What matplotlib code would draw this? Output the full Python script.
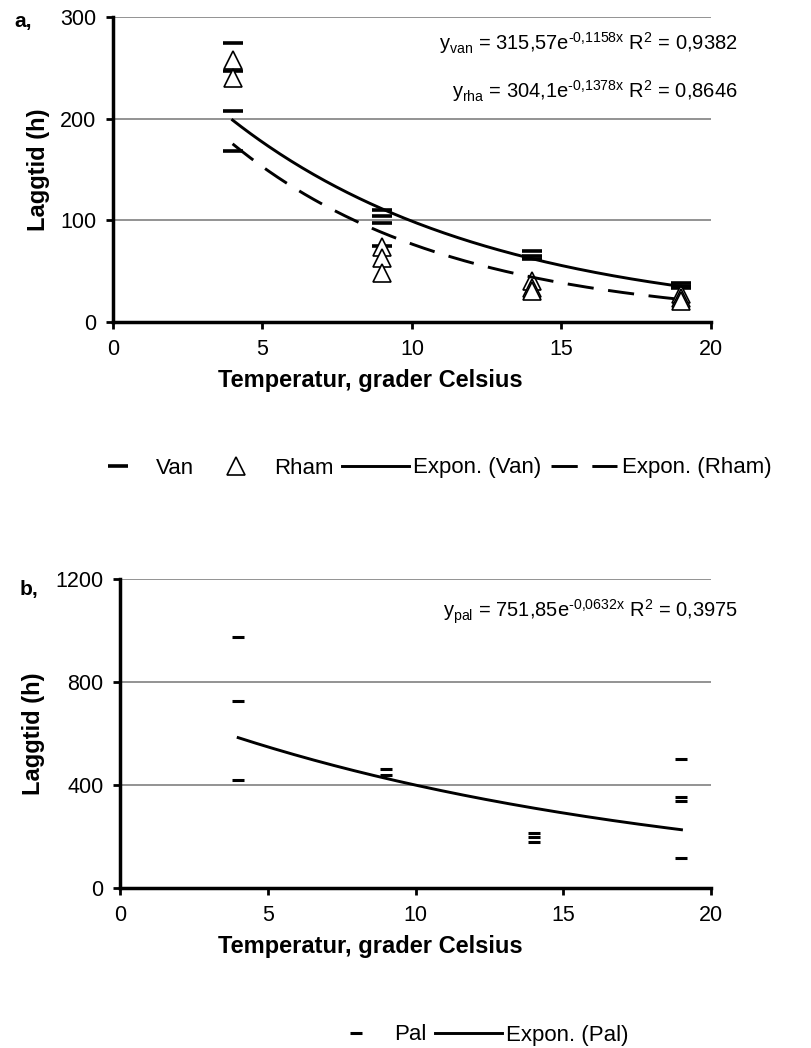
import numpy as np
import matplotlib
matplotlib.use("Agg")
from matplotlib import pyplot as plt

plt.rcParams['font.family'] = ['Liberation Sans', 'DejaVu Sans']
plt.rcParams['mathtext.default'] = 'regular'

# data (temperature in deg C, lag time in hours)
van_temp = [4, 4, 4, 4, 9, 9, 9, 9, 14, 14, 14, 19, 19, 19]
van_lag = [274, 247, 208, 168, 110, 104, 97, 75, 70, 65, 62, 38, 35, 33]
rham_temp = [4, 4, 9, 9, 9, 14, 14, 14, 19, 19, 19]
rham_lag = [258, 240, 74, 63, 48, 40, 33, 30, 28, 24, 21]
pal_temp = [4, 4, 4, 9, 9, 14, 14, 14, 19, 19, 19, 19]
pal_lag = [976, 726, 420, 462, 440, 215, 197, 180, 500, 352, 336, 115]

# trendline coefficients as printed in the chart
van_a, van_b, van_r2 = 315.57, -0.1158, "0,9382"
rham_a, rham_b, rham_r2 = 304.1, -0.1378, "0,8646"
pal_a, pal_b, pal_r2 = 751.85, -0.0632, "0,3975"

xticks = [0, 5, 10, 15, 20]
yticks_a = [0, 100, 200, 300]
yticks_b = [0, 400, 800, 1200]

W, H = 812, 1048
fig = plt.figure(figsize=(W / 100, H / 100), dpi=100)
ax1 = fig.add_axes([113 / W, 1 - 322 / H, (711 - 113) / W, (322 - 17) / H])
ax2 = fig.add_axes([120 / W, 1 - 888 / H, (711 - 120) / W, (888 - 579) / H])


def style(ax, yticks):
    ax.set_xlim(0, 20)
    ax.set_ylim(yticks[0], yticks[-1])
    ax.set_xticks(xticks)
    ax.set_yticks(yticks)
    ax.tick_params(labelsize=15.5, width=2, length=5, direction='out', pad=7)
    for s in ['top', 'right']:
        ax.spines[s].set_visible(False)
    for s in ['left', 'bottom']:
        ax.spines[s].set_linewidth(2.5)
    for y in yticks[1:]:
        ax.axhline(y, color='#808080', lw=1.2, zorder=0)
    ax.set_ylabel("Laggtid (h)", fontsize=17, fontweight='bold', labelpad=7)


def xlabel(y):
    fig.text(370 / W, 1 - y / H, "Temperatur, grader Celsius", fontsize=17,
             fontweight='bold', ha='center', va='center')


def equation(y, name, a, b, r2):
    s = r"y$_{%s}$ = %s e$^{%s{,}%sx}$ R$^{2}$ = %s" % (
        name, a, "\u2010" + b.split(',')[0].lstrip('-'), b.split(',')[1], r2)
    s = s.replace(" e$", "e$")
    fig.text(738 / W, 1 - y / H, s, ha='right', va='center', fontsize=14.5)


# panel a
style(ax1, yticks_a)
ax1.plot(van_temp, van_lag, ls='none', marker='_', ms=14, mew=2.6, color='black', label='Van', zorder=3)
ax1.plot(rham_temp, rham_lag, ls='none', marker='^', ms=13, mfc='white', mec='black', mew=1.2,
         label='Rham', zorder=4)
xs = np.linspace(min(van_temp), max(van_temp), 200)
ax1.plot(xs, van_a * np.exp(van_b * xs), color='black', lw=2.1, label='Expon. (Van)', zorder=5)
ax1.plot(xs, rham_a * np.exp(rham_b * xs), color='black', lw=2.1, ls=(0, (9, 5)),
         label='Expon. (Rham)', zorder=5)
equation(43, "van", "315,57", "-0,1158", van_r2)
equation(91, "rha", "304,1", "-0,1378", rham_r2)
fig.text(14 / W, 1 - 22 / H, "a,", fontsize=15, fontweight='bold', va='center')
xlabel(381)
ax1.legend(loc='center', bbox_to_anchor=(428 / W, 1 - 468 / H), bbox_transform=fig.transFigure,
           ncol=4, frameon=False, fontsize=16, handlelength=3, columnspacing=0.4, handletextpad=0.2)

# panel b
style(ax2, yticks_b)
ax2.plot(pal_temp, pal_lag, ls='none', marker='_', ms=9, mew=2.2, color='black', label='Pal', zorder=3)
ax2.plot(xs, pal_a * np.exp(pal_b * xs), color='black', lw=2.1, label='Expon. (Pal)', zorder=5)
equation(612, "pal", "751,85", "-0,0632", pal_r2)
fig.text(20 / W, 1 - 590 / H, "b,", fontsize=15, fontweight='bold', va='center')
xlabel(947)
ax2.legend(loc='center', bbox_to_anchor=(476 / W, 1 - 1035 / H), bbox_transform=fig.transFigure,
           ncol=2, frameon=False, fontsize=16, handlelength=3, columnspacing=0.4, handletextpad=0.2)

fig.savefig("out.png", dpi=100)
